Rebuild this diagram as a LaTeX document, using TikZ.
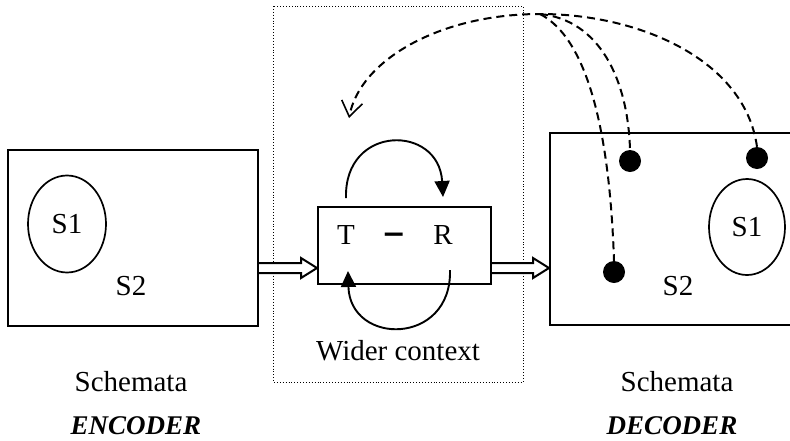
\documentclass[tikz,border=0pt]{standalone}
\usepackage{fontspec}
\setmainfont{Liberation Serif}
\usetikzlibrary{arrows.meta,calc,shapes.geometric}

\tikzset{
  lbl/.style={inner sep=0pt, font=\fontsize{29}{33}\selectfont},
  tag/.style={inner sep=0pt, font=\fontsize{27}{32}\selectfont\bfseries\itshape},
  frame/.style={draw, line width=2pt, inner sep=0pt},
  schema/.style={draw, line width=1.7pt, ellipse, inner sep=0pt},
  dot/.style={circle, fill=black, inner sep=0pt, minimum size=22pt},
  hollow/.style={draw, line width=2pt, line join=miter, fill=white},
  loop/.style={draw, line width=1.9pt, -{Triangle[length=16pt,width=15pt]}},
  link/.style={draw, line width=2pt, dash pattern=on 8pt off 5pt},
  region/.style={draw, line width=0.9pt, dotted},
}

\begin{document}
\begin{tikzpicture}[x=1pt, y=-1pt]
\useasboundingbox (0,0) rectangle (790,440);

% wider context region
\draw[region] (273,6) rectangle (523,382);
\node[lbl] (wc) at (398,351) {Wider context};

% encoder schemata
\node[frame, minimum width=250pt, minimum height=176pt] (enc) at (133,238) {};
\node[schema, minimum width=78pt, minimum height=97pt] (encS1) at (67,224) {};
\node[lbl] at (encS1.center) {S1};
\node[lbl] (encS2) at (131,286) {S2};
\node[lbl] (encSch) at (131,382) {Schemata};
\node[tag] (encTag) at (136,426) {ENCODER};

% text - reader exchange
\node[frame, minimum width=173pt, minimum height=77pt] (tr) at (404.5,245.5) {};
\node[lbl] (tT) at (346,235) {T};
\node[lbl] (tD) at (394,239) {\scalebox{1.2}[1.6]{\textbf{–}}};
\node[lbl] (tR) at (443,235) {R};

\path[loop] ([yshift=8pt]tr.north -| tT) .. controls +(-2,-74) and +(-4,-73) .. ([yshift=9pt]tr.north -| tR);
\path[loop] ([yshift=15pt]tr.south -| 450,0) .. controls +(2,76) and +(2,75) .. ([yshift=14pt]tr.south -| 348,0);

% decoder schemata
\node[frame, minimum width=242pt, minimum height=192pt] (dec) at (671,229) {};
\node[schema, minimum width=76pt, minimum height=96pt] (decS1) at (747,227) {};
\node[lbl] at (decS1.center) {S1};
\node[lbl] (decS2) at (678,286) {S2};
\node[lbl] (decSch) at (677,382) {Schemata};
\node[tag] (decTag) at (672,426) {DECODER};

% hollow arrows between the boxes
\coordinate (ea) at (enc.east |- 0,268);
\coordinate (eb) at (tr.west |- 0,268);
\draw[hollow] ($(ea)+(0,-5)$) -- ($(eb)+(-16,-5)$) -- ($(eb)+(-16,-10)$) -- (eb)
  -- ($(eb)+(-16,10)$) -- ($(eb)+(-16,5)$) -- ($(ea)+(0,5)$);
\coordinate (da) at (tr.east |- 0,268);
\coordinate (db) at (dec.west |- 0,268);
\draw[hollow] ($(da)+(0,-5)$) -- ($(db)+(-16,-5)$) -- ($(db)+(-16,-10)$) -- (db)
  -- ($(db)+(-16,10)$) -- ($(db)+(-16,5)$) -- ($(da)+(0,5)$);

% activated points in the decoder
\node[dot] (dA) at (630,161) {};
\node[dot] (dB) at (757,158) {};
\node[dot] (dC) at (614,272) {};

% feedback links back to the wider context
\coordinate (hub) at (540,14);
\path[link, -{Straight Barb[length=15pt,width=21pt,line width=1.6pt]}]
  (dB.north) .. controls (745,60) and (640,14) .. (hub)
  .. controls (440,14) and (360,60) .. (349,118);
\path[link] (hub) .. controls (600,20) and (628,80) .. (dA.north);
\path[link] (hub) .. controls (590,40) and (610,140) .. (dC.north);
\end{tikzpicture}
\end{document}
